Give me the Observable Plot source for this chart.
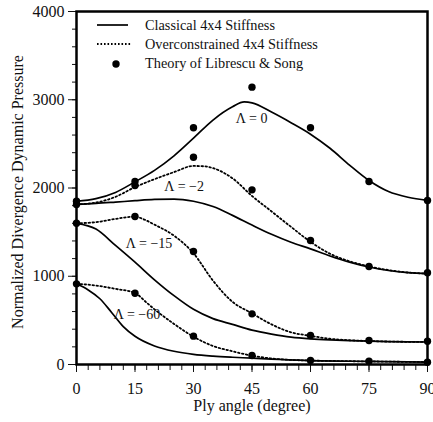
<!DOCTYPE html>
<html><head><meta charset="utf-8">
<script src="https://cdn.jsdelivr.net/npm/d3@7"></script>
<script src="https://cdn.jsdelivr.net/npm/@observablehq/plot@0.6"></script>
<style>
html,body{margin:0;padding:0;background:#fff;}
#wrap{position:relative;width:433px;height:422px;font-family:"Liberation Serif","Times New Roman",serif;}
#wrap svg{display:block;}
#legend{position:absolute;left:0;top:0;pointer-events:none;}
</style></head><body><div id="wrap"></div>
<script>
// ---- data ----
const theoryAngles = [0, 15, 30, 45, 60, 75, 90];
const theoryL0   = [1850, 2074, 2682, 3143, 2682, 2074, 1858];
const theoryL2   = [1813, 2028, 2349, 1979, 1405, 1110, 1039];
const theoryL15  = [1601, 1677, 1280, 574, 329, 272, 264];
const theoryL60  = [914, 808, 321, 102, 45, 38, 26];

const classicalL0  = [[0,1850],[5,1880],[10,1950],[15,2070],[20,2200],[25,2365],[30,2565],[35,2770],[40,2920],[43,2975],[45,2965],[50,2860],[55,2740],[60,2610],[65,2450],[70,2260],[75,2085],[80,1960],[85,1895],[90,1860]];
const classicalL2  = [[0,1815],[5,1825],[10,1840],[15,1856],[20,1870],[25,1875],[30,1850],[35,1790],[40,1690],[45,1580],[50,1475],[55,1385],[60,1310],[65,1230],[70,1160],[75,1105],[80,1065],[85,1040],[90,1028]];
const classicalL15 = [[0,1600],[5,1535],[10,1350],[15,1160],[20,960],[25,780],[30,625],[35,520],[40,455],[45,390],[50,345],[55,310],[60,290],[65,278],[70,270],[75,264],[80,260],[85,257],[90,255]];
const classicalL60 = [[0,914],[3,845],[6,745],[9,590],[12,430],[15,320],[20,210],[25,150],[30,115],[35,95],[40,82],[45,72],[50,60],[60,45],[75,35],[90,28]];

const overL2  = [[0,1815],[5,1835],[10,1900],[15,2010],[20,2100],[25,2180],[30,2250],[33,2245],[35,2225],[40,2110],[45,1910],[50,1735],[55,1560],[60,1390],[65,1255],[70,1170],[75,1112],[80,1070],[85,1042],[90,1030]];
const overL15 = [[0,1600],[5,1613],[10,1650],[15,1675],[17.5,1640],[20,1585],[25,1460],[30,1260],[35,950],[40,710],[45,580],[50,455],[55,365],[60,325],[65,292],[70,275],[75,266],[80,260],[85,257],[90,255]];
const overL60 = [[0,914],[5,895],[10,857],[15,810],[18,700],[20,625],[25,460],[30,315],[35,210],[40,150],[45,100],[50,68],[55,52],[60,45],[75,35],[90,28]];

const labelTexts  = ["Λ = 0", "Λ = −2", "Λ = −15", "Λ = −60"];
const labelAngles = [44.9, 27.6, 18.6, 15.5];
const labelValues = [2784, 2019, 1368, 569];

const legendTexts = ["Classical 4x4 Stiffness", "Overconstrained 4x4 Stiffness", "Theory of Librescu & Song"];
const xTicks = [0, 15, 30, 45, 60, 75, 90];
const yTicks = [0, 1000, 2000, 3000, 4000];

// ---- build tables ----
const toRows = (arr, key) => arr.map(([a, v]) => ({a, v, key}));
const solidRows = [
  ...toRows(classicalL0, "0"), ...toRows(classicalL2, "-2"),
  ...toRows(classicalL15, "-15"), ...toRows(classicalL60, "-60")
];
const dottedRows = [
  ...toRows(overL2, "-2"), ...toRows(overL15, "-15"), ...toRows(overL60, "-60")
];
const dotRows = [theoryL0, theoryL2, theoryL15, theoryL60]
  .flatMap(s => s.map((v, i) => ({a: theoryAngles[i], v})));
const labelRows = labelTexts.map((t, i) => ({t, a: labelAngles[i], v: labelValues[i]}));

const font = "Liberation Serif, Times New Roman, serif";

const chart = Plot.plot({
  width: 433, height: 422,
  marginLeft: 76, marginRight: 6, marginTop: 11, marginBottom: 58,
  style: {fontFamily: font, fontSize: "16px", color: "#111", background: "white"},
  x: {domain: [0, 90]},
  y: {domain: [0, 4000]},
  marks: [
    Plot.axisY({ticks: d3.range(0, 4001, 200), tickSize: 4, text: null, label: null}),
    Plot.axisY({ticks: yTicks, tickSize: 8, tickPadding: 4, tickFormat: d => String(d), label: null, fontSize: 16}),
    Plot.axisX({ticks: d3.range(0, 91, 3), tickSize: 6, text: null, label: null}),
    Plot.axisX({ticks: xTicks, tickSize: 8, tickPadding: 10, tickFormat: d => String(d), label: null, fontSize: 16}),
    Plot.line(solidRows, {x: "a", y: "v", z: "key", stroke: "black", strokeWidth: 1.7, curve: "monotone-x"}),
    Plot.line(dottedRows, {x: "a", y: "v", z: "key", stroke: "black", strokeWidth: 1.8, strokeDasharray: "1.6,2.4", curve: "monotone-x"}),
    Plot.dot(dotRows, {x: "a", y: "v", r: 3.7, fill: "black", stroke: "none"}),
    Plot.text(labelRows, {x: "a", y: "v", text: "t", fontSize: 14, fill: "#111"}),
    Plot.text(["Ply angle (degree)"], {frameAnchor: "bottom", textAnchor: "middle", dy: 46, fontSize: 16, fill: "#111"}),
    Plot.text(["Normalized Divergence Dynamic Pressure"], {frameAnchor: "left", textAnchor: "middle", dx: -59, dy: 4, rotate: -90, fontSize: 16, fill: "#111"}),
    Plot.frame({stroke: "black", strokeWidth: 2.5})
  ]
});

const wrap = document.getElementById("wrap");
wrap.appendChild(chart);

// ---- legend overlay ----
const leg = d3.select(wrap).append("svg").attr("id", "legend")
  .attr("width", 433).attr("height", 422);
const rowsY = [25, 44, 63];
leg.append("line").attr("x1", 97).attr("x2", 128).attr("y1", rowsY[0]).attr("y2", rowsY[0])
  .attr("stroke", "black").attr("stroke-width", 1.7);
leg.append("line").attr("x1", 97).attr("x2", 131).attr("y1", rowsY[1]).attr("y2", rowsY[1])
  .attr("stroke", "black").attr("stroke-width", 1.8).attr("stroke-dasharray", "1.6,1.9");
leg.append("circle").attr("cx", 116).attr("cy", rowsY[2] + 1).attr("r", 3.7).attr("fill", "black");
leg.selectAll("text.lg").data(legendTexts).join("text")
  .attr("x", 145).attr("y", (d, i) => rowsY[i])
  .attr("dy", "0.35em")
  .attr("font-family", font).attr("font-size", 14.3).attr("fill", "#111")
  .text(d => d);
</script></body></html>
